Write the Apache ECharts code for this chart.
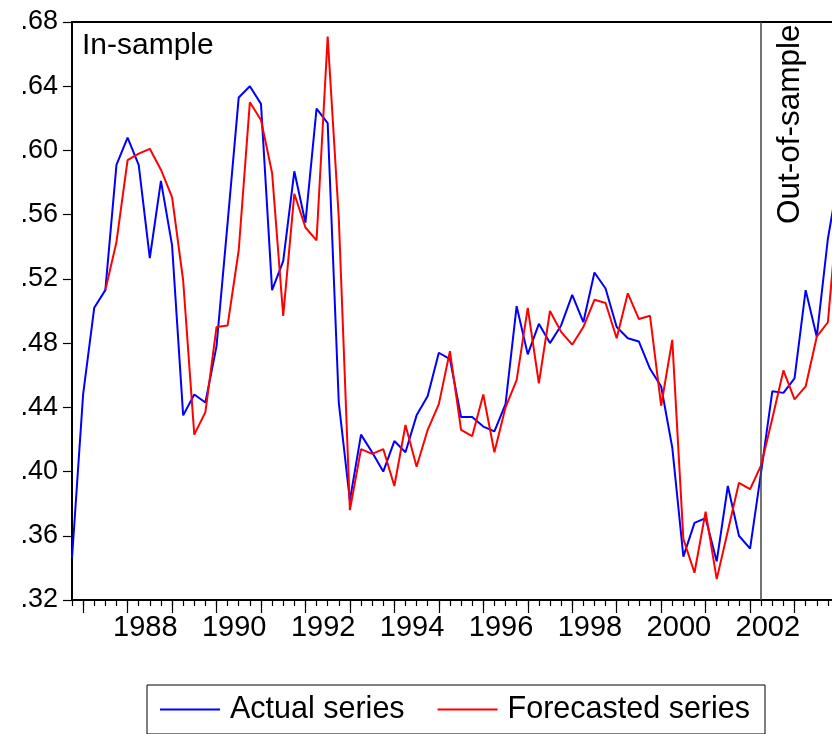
<!DOCTYPE html>
<html><head><meta charset="utf-8">
<script src="https://cdn.jsdelivr.net/npm/echarts@6/dist/echarts.min.js"></script>
<style>html,body{margin:0;padding:0;background:#fff}#c{width:832px;height:734px}</style>
</head><body><div id="c"></div>
<script>
const quarters = [
 '1986Q4',
 '1987Q1','1987Q2','1987Q3','1987Q4','1988Q1','1988Q2','1988Q3','1988Q4',
 '1989Q1','1989Q2','1989Q3','1989Q4','1990Q1','1990Q2','1990Q3','1990Q4',
 '1991Q1','1991Q2','1991Q3','1991Q4','1992Q1','1992Q2','1992Q3','1992Q4',
 '1993Q1','1993Q2','1993Q3','1993Q4','1994Q1','1994Q2','1994Q3','1994Q4',
 '1995Q1','1995Q2','1995Q3','1995Q4','1996Q1','1996Q2','1996Q3','1996Q4',
 '1997Q1','1997Q2','1997Q3','1997Q4','1998Q1','1998Q2','1998Q3','1998Q4',
 '1999Q1','1999Q2','1999Q3','1999Q4','2000Q1','2000Q2','2000Q3','2000Q4',
 '2001Q1','2001Q2','2001Q3','2001Q4','2002Q1','2002Q2','2002Q3','2002Q4',
 '2003Q1','2003Q2','2003Q3','2003Q4','2004Q1'
];
const actual = [
 0.346,
 0.448,0.502,0.513,0.591,0.608,0.591,0.533,0.581,
 0.541,0.435,0.448,0.443,0.478,0.555,0.633,0.640,
 0.629,0.513,0.531,0.587,0.555,0.626,0.617,0.443,
 0.382,0.423,0.412,0.400,0.419,0.412,0.435,0.447,
 0.474,0.470,0.434,0.434,0.428,0.425,0.442,0.503,
 0.473,0.492,0.480,0.491,0.510,0.493,0.524,0.514,
 0.490,0.483,0.481,0.464,0.453,0.415,0.347,0.368,
 0.371,0.344,0.391,0.360,0.352,0.400,0.450,0.449,
 0.458,0.513,0.484,0.545,0.585
];
const forecast = [
 null,
 null,null,0.513,0.543,0.594,0.598,0.601,0.588,
 0.571,0.519,0.423,0.437,0.490,0.491,0.538,0.630,
 0.619,0.586,0.497,0.573,0.552,0.544,0.671,0.558,
 0.376,0.414,0.411,0.414,0.391,0.429,0.403,0.426,
 0.442,0.475,0.426,0.422,0.448,0.412,0.440,0.457,
 0.502,0.455,0.500,0.487,0.479,0.490,0.507,0.505,
 0.483,0.511,0.495,0.497,0.441,0.482,0.358,0.337,
 0.375,0.333,0.363,0.393,0.389,0.404,0.433,0.463,
 0.445,0.453,0.484,0.493,0.572
];
const yearLabels = ['1988','1990','1992','1994','1996','1998','2000','2002'];
const splitQuarter = '2002Q2';
const yMin = 0.32, yMax = 0.68, yStep = 0.04;

const FONT = 'Liberation Sans, Arial, sans-serif';
const chart = echarts.init(document.getElementById('c'), null, {renderer:'canvas'});
chart.setOption({
  animation: false,
  backgroundColor: '#fff',
  grid: {left: 72, width: 767, top: 22, height: 578, outerBoundsMode: 'none', containLabel: false,
    show: true, borderColor: '#000', borderWidth: 2, backgroundColor: 'transparent'},
  xAxis: [{
    type: 'category', data: quarters, boundaryGap: false, position: 'bottom',
    axisLine: {show: true, lineStyle: {color: '#000', width: 2}},
    axisTick: {show: true, interval: 0, length: 6, lineStyle: {color: '#000', width: 1.2}},
    axisLabel: {
      interval: (i, v) => yearLabels.indexOf(v.slice(0,4)) >= 0 && v.slice(4) === 'Q3',
      formatter: v => v.slice(0,4),
      fontSize: 29, color: '#000', fontFamily: FONT, margin: 13, padding: [0, 9, 0, 0],
      hideOverlap: false
    },
    splitLine: {show: false}
  }, {
    type: 'category', data: quarters, boundaryGap: false, position: 'bottom',
    axisLine: {show: false},
    axisTick: {show: true, interval: (i, v) => v.slice(4) === 'Q1', length: 13, lineStyle: {color: '#000', width: 1.2}},
    axisLabel: {show: false},
    splitLine: {show: false}
  }],
  yAxis: {
    type: 'value', min: yMin, max: yMax, interval: yStep,
    axisLine: {show: true, lineStyle: {color: '#000', width: 2}},
    axisTick: {show: true, length: 9, lineStyle: {color: '#000', width: 1.2}},
    axisLabel: {formatter: v => v.toFixed(2).replace(/^0/, ''), fontSize: 27, color: '#000', fontFamily: FONT, margin: 14},
    splitLine: {show: false}
  },
  legend: {
    left: 147, top: 685, orient: 'horizontal',
    borderColor: '#000', borderWidth: 1, borderRadius: 0,
    padding: [9, 15, 9, 13], itemGap: 33,
    itemWidth: 60, itemHeight: 2, icon: 'rect',
    textStyle: {fontSize: 30.5, color: '#000', fontFamily: FONT, padding: [0, 0, 0, 5]},
    data: ['Actual series', 'Forecasted series']
  },
  series: [{
    name: 'Actual series', type: 'line', data: actual, xAxisIndex: 0,
    symbol: 'none', lineStyle: {color: '#0000FF', width: 2}, itemStyle: {color: '#0000FF'},
    markLine: {silent: true, symbol: 'none', label: {show: false},
      lineStyle: {color: '#444', width: 1.5, type: 'solid'},
      data: [{xAxis: splitQuarter}]}
  }, {
    name: 'Forecasted series', type: 'line', data: forecast, xAxisIndex: 0,
    symbol: 'none', lineStyle: {color: '#FF0000', width: 2}, itemStyle: {color: '#FF0000'}
  }],
  graphic: [{
    type: 'text', left: 82, top: 31,
    style: {text: 'In-sample', fontSize: 30, fontFamily: FONT, fill: '#000'}
  }, {
    type: 'text', x: 790, y: 224, rotation: Math.PI / 2,
    style: {text: 'Out-of-sample', fontSize: 31.5, fontFamily: FONT, fill: '#000', textAlign: 'left', textVerticalAlign: 'middle'}
  }]
});
</script></body></html>
